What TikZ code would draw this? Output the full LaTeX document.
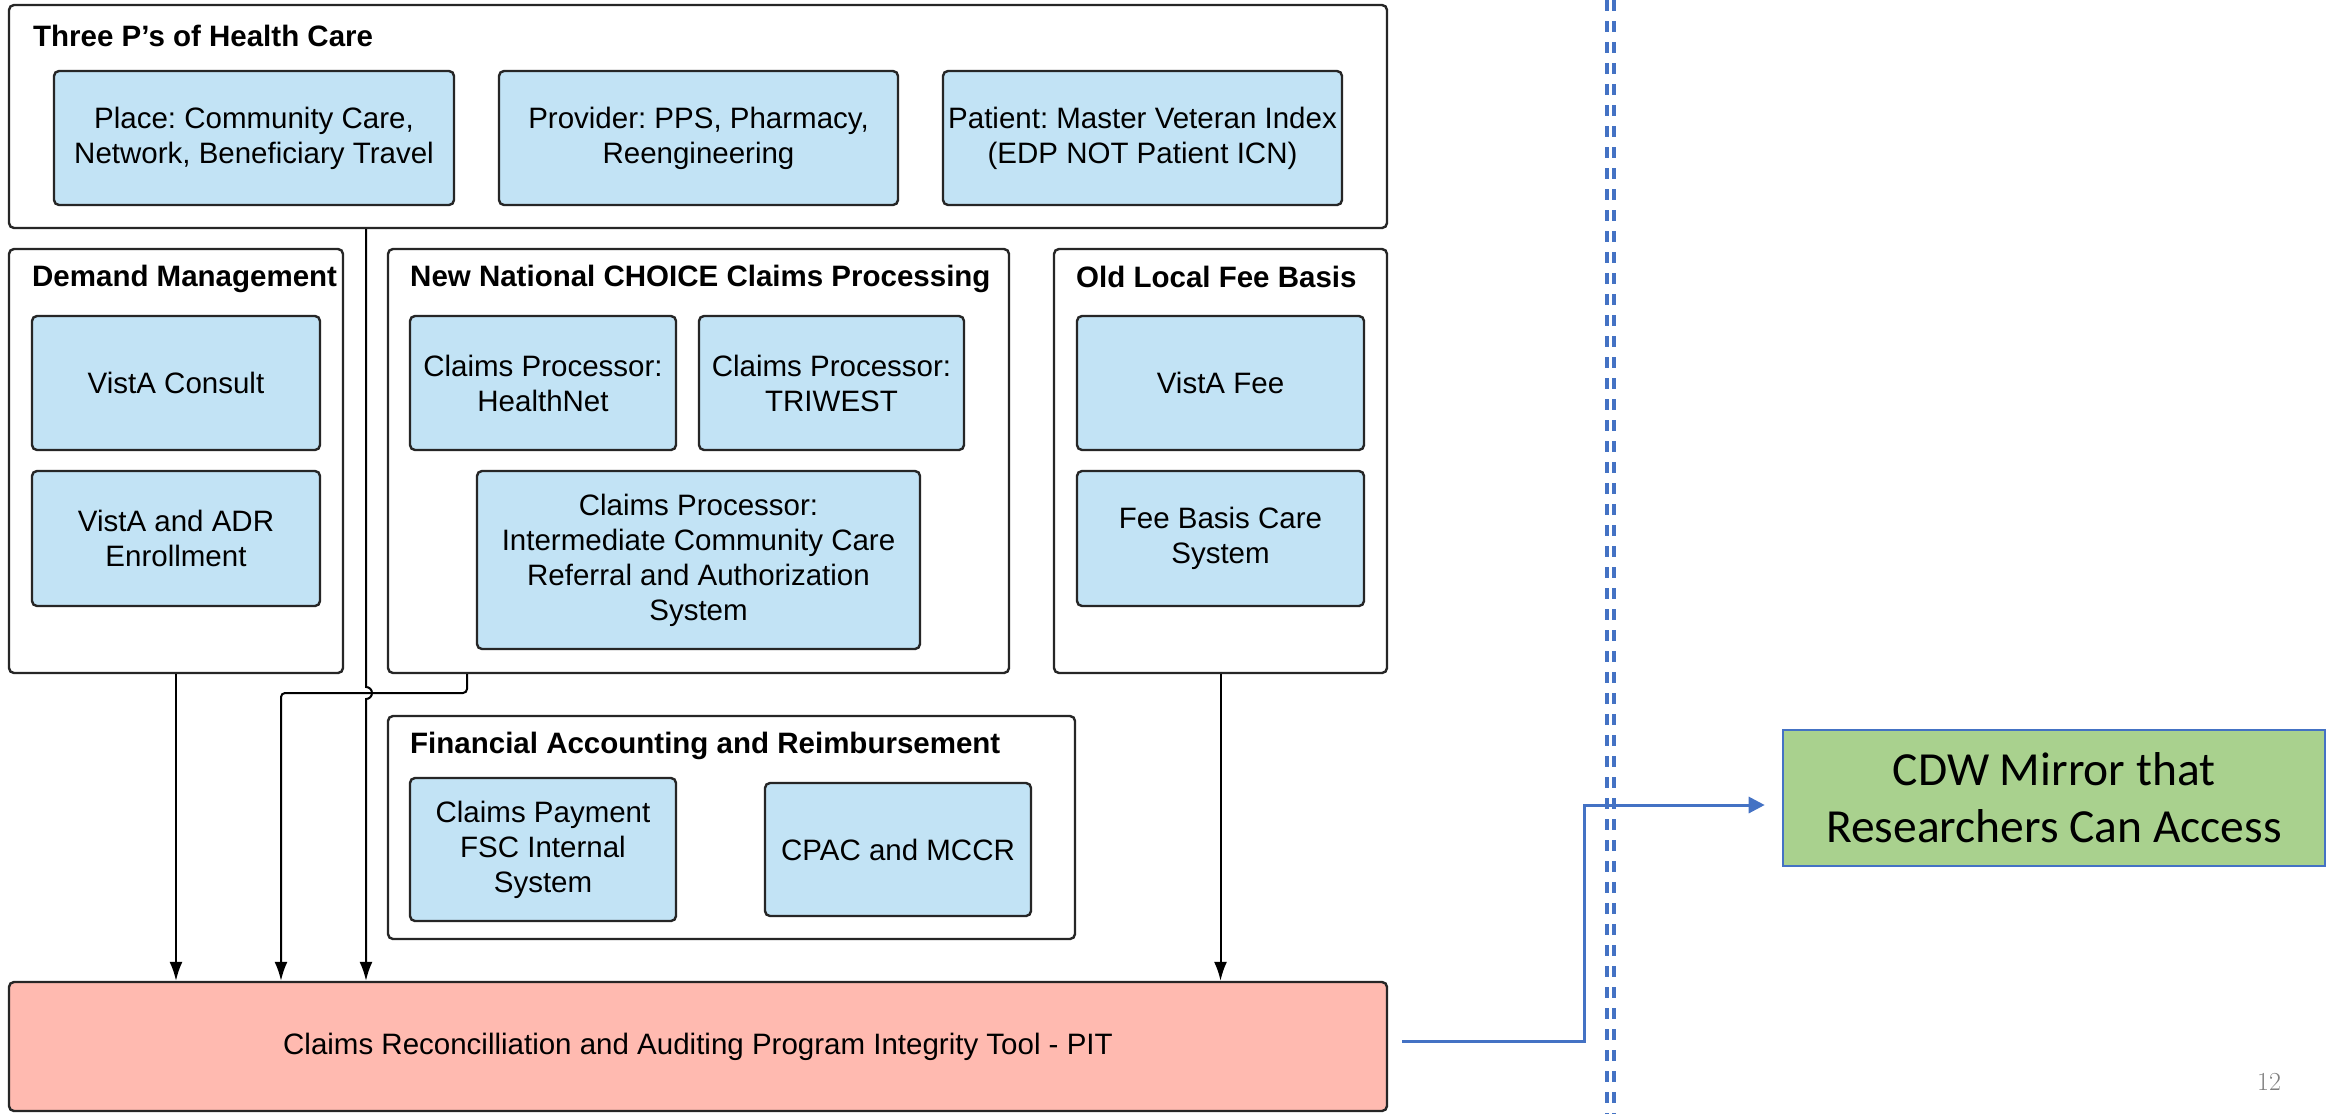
\documentclass[tikz,border=0pt]{standalone}
\usepackage{fontspec}
\newfontfamily\arialfont{Liberation Sans}
\newfontfamily\calibrifont{Carlito}
\usetikzlibrary{arrows.meta}
\frenchspacing
\definecolor{itemblue}{RGB}{194,227,245}
\definecolor{pitred}{RGB}{255,186,176}
\definecolor{cdwgreen}{RGB}{169,209,142}
\definecolor{msblue}{RGB}{68,114,196}
\definecolor{pagegray}{RGB}{127,127,127}
\tikzset{
  group/.style={draw=black!85, line width=2.4pt, rounded corners=5pt, fill=white, inner sep=0pt},
  item/.style={draw=black!85, line width=2.4pt, rounded corners=5pt, fill=itemblue, align=center,
    inner sep=0pt, font=\arialfont\fontsize{29.5}{35}\selectfont},
  grouptitle/.style={anchor=west, inner sep=0pt, font=\arialfont\bfseries\fontsize{29.5}{35}\selectfont},
  arr/.style={draw=black, line width=2pt, -{Latex[length=19pt,width=13pt]}},
  bluearr/.style={draw=msblue, line width=3pt, -{Triangle[length=16pt,width=16pt]}},
  divider/.style={draw=msblue, line width=3.3pt, dash pattern=on 11pt off 10pt}
}
\begin{document}
\begin{tikzpicture}[x=1pt,y=-1pt]
\useasboundingbox (0,0) rectangle (2328,1114);
% groups
\node[group, minimum width=1378pt, minimum height=223pt] (threeps) at (698,116.5) {};
\node[group, minimum width=334pt, minimum height=424pt] (demand) at (176,461) {};
\node[group, minimum width=621pt, minimum height=424pt] (newnat) at (698.5,461) {};
\node[group, minimum width=333pt, minimum height=424pt] (oldlocal) at (1220.5,461) {};
\node[group, minimum width=687pt, minimum height=223pt] (financial) at (731.5,827.5) {};
\node[group, fill=pitred, minimum width=1378pt, minimum height=129pt, font=\arialfont\fontsize{29.5}{35}\selectfont] (pit) at (698,1046.5) {Claims Reconcilliation and Auditing Program Integrity Tool - PIT};
% titles
\node[grouptitle] (t1) at (33,36) {Three P’s of Health Care};
\node[grouptitle] (t2) at (32,279) {Demand Management};
\node[grouptitle] (t3) at (410,279) {New National CHOICE Claims Processing};
\node[grouptitle] (t4) at (1076,277) {Old Local Fee Basis};
\node[grouptitle] (t5) at (410,746) {Financial Accounting and Reimbursement};
% items
\node[item, minimum width=400pt, minimum height=134pt] (place) at (254,138) {Place: Community Care,\\Network, Beneficiary Travel};
\node[item, minimum width=399pt, minimum height=134pt] (provider) at (698.5,138) {Provider: PPS, Pharmacy,\\Reengineering};
\node[item, minimum width=399pt, minimum height=134pt] (patient) at (1142.5,138) {Patient: Master Veteran Index\\(EDP NOT Patient ICN)};
\node[item, minimum width=288pt, minimum height=134pt] (vconsult) at (176,383) {VistA Consult};
\node[item, minimum width=288pt, minimum height=135pt] (vadr) at (176,538.5) {VistA and ADR\\Enrollment};
\node[item, minimum width=266pt, minimum height=134pt] (healthnet) at (543,383) {Claims Processor:\\HealthNet};
\node[item, minimum width=265pt, minimum height=134pt] (triwest) at (831.5,383) {Claims Processor:\\TRIWEST};
\node[item, minimum width=443pt, minimum height=178pt] (interm) at (698.5,560) {Claims Processor:\\Intermediate Community Care\\Referral and Authorization\\System};
\node[item, minimum width=287pt, minimum height=134pt] (vfee) at (1220.5,383) {VistA Fee};
\node[item, minimum width=287pt, minimum height=135pt] (feebasis) at (1220.5,538.5) {Fee Basis Care\\System};
\node[item, minimum width=266pt, minimum height=143pt] (claimspay) at (543,849.5) {Claims Payment\\FSC Internal\\System};
\node[item, minimum width=266pt, minimum height=133pt] (cpac) at (898,849.5) {CPAC and MCCR};
% CDW
\node[draw=msblue, line width=2.6pt, fill=cdwgreen, minimum width=542pt, minimum height=136pt, align=center,
  font=\calibrifont\fontsize{47.5}{57}\selectfont] (cdw) at (2054,798) {CDW Mirror that\\Researchers Can Access};
% page number
\node[text=pagegray, font=\fontsize{26}{26}\selectfont] (pg) at (2269,1082) {12};
% divider
\draw[divider] (1607,0) -- (1607,1114);
\draw[divider] (1614,0) -- (1614,1114);
% connectors
\draw[arr] (demand.south) -- (demand.south |- pit.north);
\coordinate (j2) at (281,693);
\draw[arr, rounded corners=4pt] ([xshift=-231.5pt]newnat.south) |- (j2) -- (j2 |- pit.north);
\coordinate (j3) at (366,0);
\draw[arr] ([xshift=-332pt]threeps.south) -- (366,687) arc(90:-90:6pt) -- (j3 |- pit.north);
\draw[arr] (oldlocal.south) -- (oldlocal.south |- pit.north);
\draw[bluearr] ([xshift=14pt,yshift=5.5pt]pit.east) -| (1584,805) -- ([xshift=-17pt,yshift=-7pt]cdw.west);
\end{tikzpicture}
\end{document}
